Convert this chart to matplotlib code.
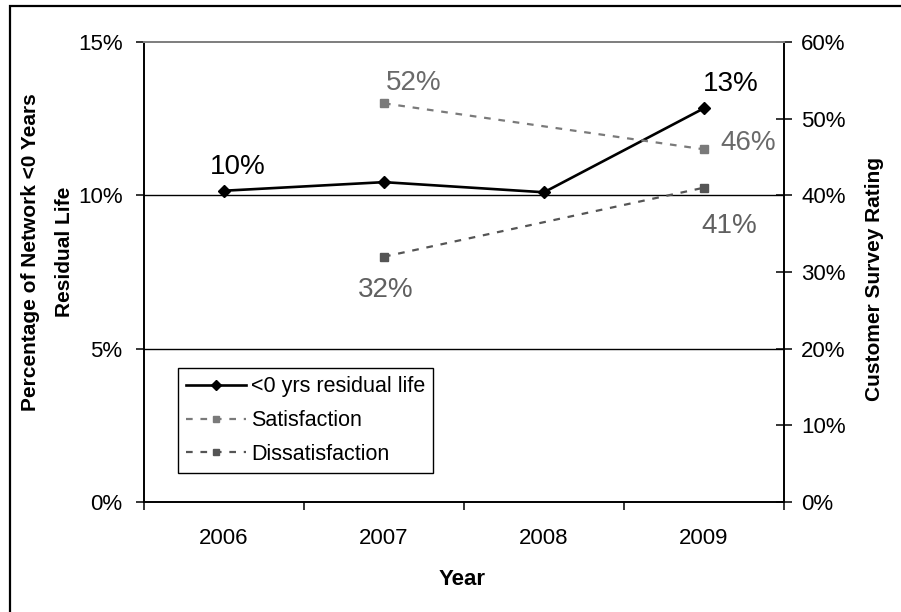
import numpy as np
import matplotlib
matplotlib.use("Agg")
import matplotlib.pyplot as plt
from matplotlib.lines import Line2D
from matplotlib.patches import Rectangle
from matplotlib.ticker import FuncFormatter

plt.rcParams["font.family"] = ["Liberation Sans", "DejaVu Sans"]

YEARS = ["2006", "2007", "2008", "2009"]

# share of network with <0 years residual life (%)
residual_life = [10.15, 10.43, 10.10, 12.84]

# customer survey results (%), only surveyed in 2007 and 2009
survey_years = ["2007", "2009"]
satisfaction = [52, 46]
dissatisfaction = [32, 41]

RES_COLOR = "black"
SAT_COLOR = "#7a7a7a"
DIS_COLOR = "#555555"
DASH = (0, (3, 3.5))


def pct(v, _pos):
    return f"{v:.0f}%"


fig = plt.figure(figsize=(9.01, 6.12), dpi=100)
ax = fig.add_axes([144 / 901, 1 - 502 / 612, 640 / 901, 460 / 612])
ax2 = ax.twinx()

x_all = np.arange(len(YEARS))
x_survey = np.array([YEARS.index(y) for y in survey_years])

ax.set_xlim(-0.5, len(YEARS) - 0.5)
ax.set_ylim(0, 15)
ax2.set_ylim(0, 60)

# horizontal gridlines
for gy in [5, 10]:
    ax.axhline(gy, color="black", lw=1.0, zorder=0.5)

ax.plot(x_all, residual_life, color=RES_COLOR, lw=1.9, marker="D",
        markersize=6, zorder=3)
ax2.plot(x_survey, satisfaction, color=SAT_COLOR, lw=1.6, ls=DASH,
         marker="s", markersize=6, zorder=3)
ax2.plot(x_survey, dissatisfaction, color=DIS_COLOR, lw=1.6, ls=DASH,
         marker="s", markersize=6, zorder=3)

# value labels
res_offsets = {0: (14, 17), 3: (27, 17)}
for i, (dx, dy) in res_offsets.items():
    ax.annotate(f"{residual_life[i]:.0f}%", (x_all[i], residual_life[i]),
                xytext=(dx, dy), textcoords="offset pixels",
                ha="center", va="baseline", fontsize=20, color=RES_COLOR)

sat_offsets = [(30, 13), (44, -1)]
for xi, v, (dx, dy) in zip(x_survey, satisfaction, sat_offsets):
    ax2.annotate(f"{v:.0f}%", (xi, v), xytext=(dx, dy),
                 textcoords="offset pixels", ha="center", va="baseline",
                 fontsize=20, color="#6a6a6a")

dis_offsets = [(2, -40), (25, -45)]
for xi, v, (dx, dy) in zip(x_survey, dissatisfaction, dis_offsets):
    ax2.annotate(f"{v:.0f}%", (xi, v), xytext=(dx, dy),
                 textcoords="offset pixels", ha="center", va="baseline",
                 fontsize=20, color="#606060")

# axes styling
ax.set_xticks(np.arange(len(YEARS) + 1) - 0.5)
ax.set_xticklabels([])
ax.set_xticks(x_all, minor=True)
ax.set_xticklabels(YEARS, minor=True, fontsize=16)
ax.tick_params(axis="x", which="major", direction="out", length=5.5,
               width=1.1, color="black")
ax.tick_params(axis="x", which="minor", length=0, pad=19)

ax.set_yticks([0, 5, 10, 15])
ax.yaxis.set_major_formatter(FuncFormatter(pct))
ax.tick_params(axis="y", direction="out", length=5.5, width=1.1,
               labelsize=16, pad=10)

ax2.set_yticks(np.arange(0, 61, 10))
ax2.yaxis.set_major_formatter(FuncFormatter(pct))
ax2.tick_params(axis="y", direction="inout", length=11, width=1.1,
                labelsize=16, pad=7)

for a in (ax, ax2):
    a.spines["left"].set_linewidth(1.2)
    a.spines["right"].set_linewidth(1.2)
    a.spines["bottom"].set_linewidth(1.2)
    a.spines["top"].set_color("#808080")
    a.spines["top"].set_linewidth(1.4)

ax.set_zorder(ax2.get_zorder() - 1)
ax.patch.set_visible(False)

# axis titles
fig.text(48 / 901, 1 - 252 / 612,
         "Percentage of Network <0 Years\nResidual Life",
         rotation=90, ha="center", va="center", multialignment="center",
         fontsize=15, fontweight="bold", linespacing=2.0)
fig.text(874 / 901, 1 - 279 / 612, "Customer Survey Rating",
         rotation=90, ha="center", va="center",
         fontsize=15, fontweight="bold")
fig.text(462 / 901, 1 - 585 / 612, "Year", ha="center", va="baseline",
         fontsize=16, fontweight="bold")

handles = [
    Line2D([], [], color=RES_COLOR, lw=1.9, marker="D", markersize=5),
    Line2D([], [], color=SAT_COLOR, lw=1.6, ls=DASH, marker="s",
           markersize=5),
    Line2D([], [], color=DIS_COLOR, lw=1.6, ls=DASH, marker="s",
           markersize=5),
]
labels = ["<0 yrs residual life", "Satisfaction", "Dissatisfaction"]
leg = ax2.legend(handles, labels, loc="upper left",
                 bbox_to_anchor=((178 - 144) / 640, (502 - 368) / 460),
                 fontsize=15.5, frameon=True, fancybox=False,
                 edgecolor="black", framealpha=1, borderpad=0.38,
                 handlelength=2.8, handletextpad=0.2, labelspacing=0.6,
                 borderaxespad=0)
leg.get_frame().set_linewidth(1.0)

# outer border of the chart area
fig.patches.append(Rectangle((10 / 901, -0.1), 1.2, 1.1 - 6 / 612,
                             transform=fig.transFigure, fill=False,
                             edgecolor="black", lw=1.6))

fig.savefig("out.png", dpi=100)
